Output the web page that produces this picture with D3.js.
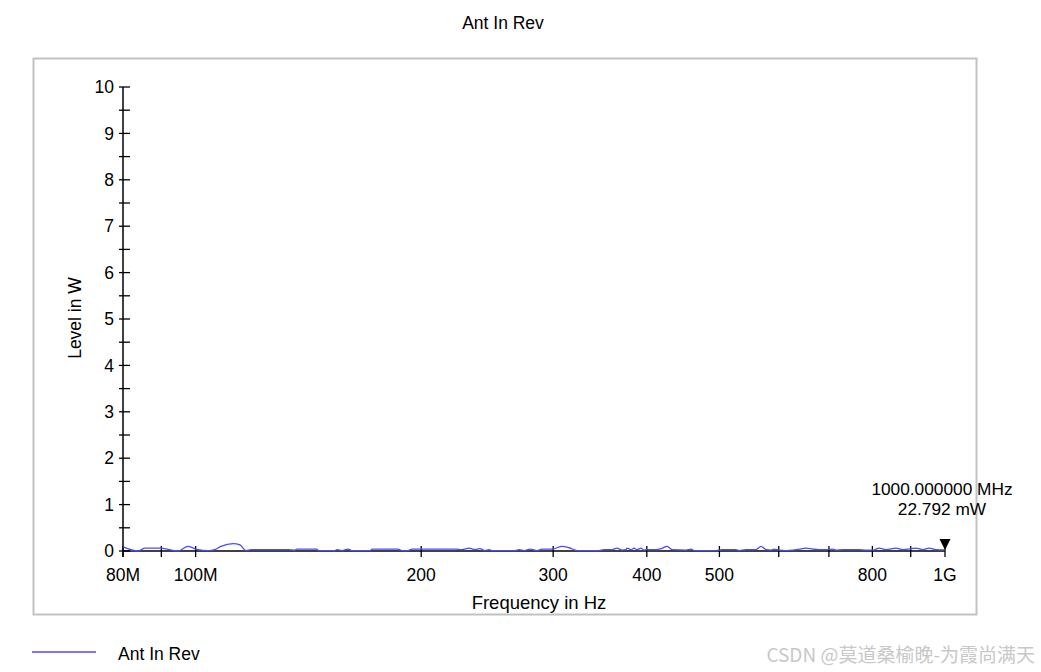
<!DOCTYPE html>
<html>
<head>
<meta charset="utf-8">
<script src="https://cdn.jsdelivr.net/npm/d3@7"></script>
<style>
  body { margin: 0; background: #fff; }
  text { font-family: "Liberation Sans", Arial, sans-serif; fill: #000; }
</style>
</head>
<body>
<div class="chart"></div>
<script>
// Chart data (frequency in MHz, level in W)
const freqMHz = [80.0, 83.8, 85.6, 89.9, 91.9, 94.7, 97.7, 100.7, 103.9, 106.1, 108.1, 112.2, 114.6, 116.7,
  118.6, 132.9, 135.7, 136.6, 145.2, 145.7, 153.5, 154.4, 156.8, 159.7, 161.7, 170.9, 172.0, 186.2,
  188.5, 192.0, 194.4, 221.9, 226.7, 231.6, 235.9, 239.6, 243.3, 246.3, 248.6, 266.9, 270.2, 274.4,
  279.5, 285.6, 290.0, 299.1, 308.4, 315.1, 322.9, 345.4, 350.7, 359.5, 365.1, 370.8, 375.3, 376.4,
  381.1, 384.7, 388.2, 393.0, 396.6, 399.1, 411.5, 417.9, 425.7, 432.3, 451.3, 458.3, 462.5, 494.8,
  504.0, 526.2, 531.0, 542.5, 559.5, 568.2, 577.0, 586.0, 591.4, 600.6, 613.6, 626.9, 638.6, 652.4,
  666.6, 679.0, 693.9, 708.9, 715.5, 731.1, 767.7, 784.5, 801.5, 816.4, 834.2, 860.3, 878.9, 914.7,
  934.6, 951.9, 972.6, 1000.0];
const levelW = [0.09, 0.0, 0.06, 0.06, 0.035, 0.0, 0.1, 0.03, 0.01, 0.03, 0.1, 0.16, 0.13, 0.01,
  0.03, 0.03, 0.02, 0.04, 0.04, 0.01, 0.01, 0.03, 0.01, 0.04, 0.01, 0.01, 0.04, 0.04,
  0.01, 0.01, 0.04, 0.04, 0.03, 0.06, 0.03, 0.05, 0.01, 0.03, 0.01, 0.01, 0.03, 0.01,
  0.04, 0.01, 0.04, 0.04, 0.1, 0.07, 0.01, 0.01, 0.03, 0.03, 0.06, 0.02, 0.03, 0.06,
  0.03, 0.06, 0.03, 0.06, 0.02, 0.03, 0.03, 0.05, 0.1, 0.03, 0.02, 0.04, 0.01, 0.01,
  0.03, 0.03, 0.01, 0.03, 0.03, 0.1, 0.03, 0.02, 0.04, 0.02, 0.01, 0.02, 0.04, 0.06,
  0.04, 0.03, 0.03, 0.04, 0.02, 0.03, 0.03, 0.02, 0.02, 0.06, 0.03, 0.06, 0.03, 0.06,
  0.03, 0.06, 0.03, 0.022792];

const xTickValues = [80, 90, 100, 200, 300, 400, 500, 600, 700, 800, 900, 1000];
const xTickLabels = { 80: '80M', 100: '100M', 200: '200', 300: '300', 400: '400', 500: '500', 800: '800', 1000: '1G' };
const yMajorTicks = [0, 1, 2, 3, 4, 5, 6, 7, 8, 9, 10];
const yMinorTicks = [0.5, 1.5, 2.5, 3.5, 4.5, 5.5, 6.5, 7.5, 8.5, 9.5];

const seriesName = 'Ant In Rev';
const markerLines = ['1000.000000 MHz', '22.792 mW'];
const watermark = 'CSDN @莫道桑榆晚-为霞尚满天';

const width = 1041;
const height = 672;
const lineColor = '#4a4aff';

const svg = d3.select('.chart')
  .append('svg')
    .attr('width', width)
    .attr('height', height);

// Scales
const x = d3.scaleLog().domain([80, 1000]).range([123, 945]);
const y = d3.scaleLinear().domain([0, 10]).range([551, 87]);

// Title
svg.append('text')
  .attr('x', 503)
  .attr('y', 29)
  .attr('text-anchor', 'middle')
  .style('font-size', '17.5px')
  .text(seriesName);

// Plot frame
svg.append('rect')
  .attr('x', 33.5)
  .attr('y', 58.5)
  .attr('width', 943)
  .attr('height', 556)
  .attr('fill', 'none')
  .attr('stroke', '#c2c2c2')
  .attr('stroke-width', 2);

// X axis line
svg.append('line')
  .attr('x1', x(80)).attr('x2', x(1000))
  .attr('y1', y(0)).attr('y2', y(0))
  .attr('stroke', '#404040')
  .attr('stroke-width', 2);

// X ticks (crossing the axis)
svg.selectAll('.xtick')
  .data(xTickValues)
  .enter().append('line')
    .attr('class', 'xtick')
    .attr('x1', d => x(d)).attr('x2', d => x(d))
    .attr('y1', y(0) - 5).attr('y2', y(0) + 6)
    .attr('stroke', '#000')
    .attr('stroke-width', 1.3);

svg.selectAll('.xlabel')
  .data(xTickValues.filter(d => xTickLabels[d]))
  .enter().append('text')
    .attr('class', 'xlabel')
    .attr('x', d => x(d))
    .attr('y', 581)
    .attr('text-anchor', 'middle')
    .style('font-size', '17.5px')
    .text(d => xTickLabels[d]);

// Y axis
svg.append('line')
  .attr('x1', x(80)).attr('x2', x(80))
  .attr('y1', y(10)).attr('y2', y(0) + 6)
  .attr('stroke', '#000')
  .attr('stroke-width', 1.5);

svg.selectAll('.ytick')
  .data(yMajorTicks.concat(yMinorTicks))
  .enter().append('line')
    .attr('class', 'ytick')
    .attr('x1', x(80) - 4).attr('x2', x(80) + 7)
    .attr('y1', d => y(d)).attr('y2', d => y(d))
    .attr('stroke', '#000')
    .attr('stroke-width', 1.3);

svg.selectAll('.ylabel')
  .data(yMajorTicks)
  .enter().append('text')
    .attr('class', 'ylabel')
    .attr('x', 114)
    .attr('y', d => y(d))
    .attr('dy', '0.35em')
    .attr('text-anchor', 'end')
    .style('font-size', '17.5px')
    .text(d => d);

// Axis titles
svg.append('text')
  .attr('x', 539)
  .attr('y', 609)
  .attr('text-anchor', 'middle')
  .style('font-size', '18.5px')
  .text('Frequency in Hz');

svg.append('text')
  .attr('transform', 'translate(81,318) rotate(-90)')
  .attr('text-anchor', 'middle')
  .style('font-size', '17.5px')
  .text('Level in W');

// Series line
const points = freqMHz.map((f, i) => ({ f: f, v: levelW[i] }));
const line = d3.line()
  .x(d => x(d.f))
  .y(d => y(d.v))
  .curve(d3.curveMonotoneX);

svg.append('path')
  .datum(points)
  .attr('d', line)
  .attr('fill', 'none')
  .attr('stroke', lineColor)
  .attr('stroke-width', 1.3);

// Marker at the last point
const last = points[points.length - 1];
const mx = x(last.f);
const my = y(last.v);
svg.append('path')
  .attr('d', `M${mx - 5.5},${my - 11} L${mx + 5.5},${my - 11} L${mx},${my} Z`)
  .attr('fill', '#000');

svg.selectAll('.marker-text')
  .data(markerLines)
  .enter().append('text')
    .attr('class', 'marker-text')
    .attr('x', 942)
    .attr('y', (d, i) => 495 + i * 20)
    .attr('text-anchor', 'middle')
    .style('font-size', '17.3px')
    .text(d => d);

// Legend
svg.append('line')
  .attr('x1', 32).attr('x2', 96)
  .attr('y1', 652).attr('y2', 652)
  .attr('stroke', lineColor)
  .attr('stroke-width', 1.3);

svg.append('text')
  .attr('x', 118)
  .attr('y', 660)
  .style('font-size', '17.5px')
  .text(seriesName);

// Watermark
svg.append('text')
  .attr('x', 1035)
  .attr('y', 662)
  .attr('text-anchor', 'end')
  .style('font-size', '19px')
  .style('fill', '#c8c8c8')
  .style('font-family', '"Noto Sans CJK SC", "Liberation Sans", sans-serif')
  .text(watermark);
</script>
</body>
</html>
